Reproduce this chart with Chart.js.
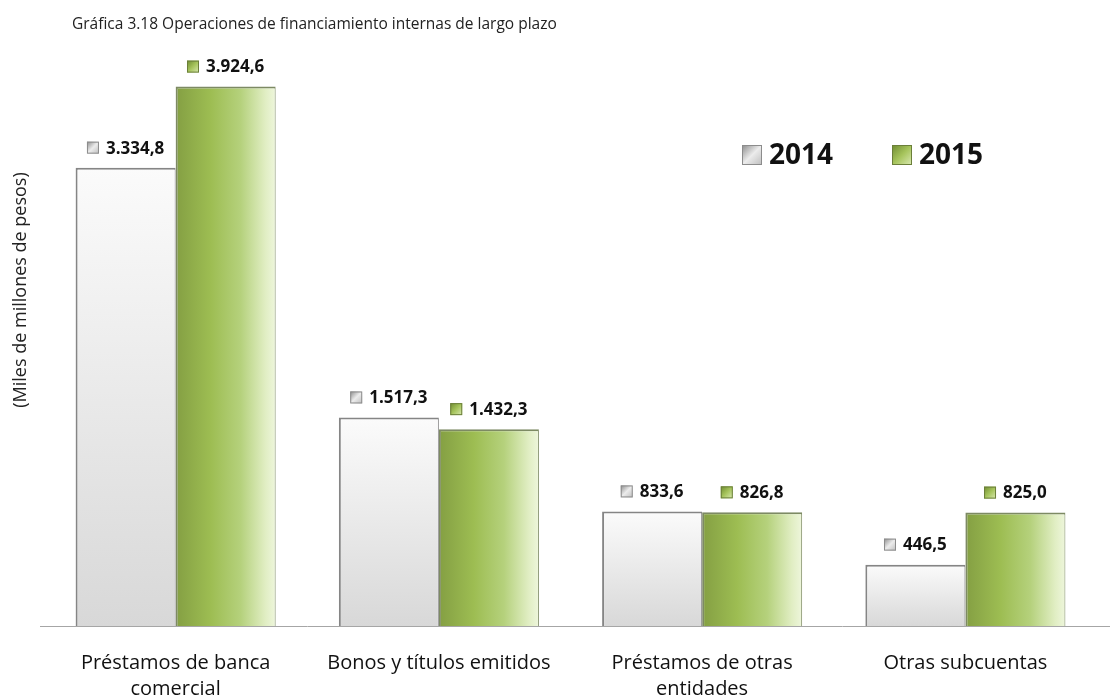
<!DOCTYPE html>
<html>
<head>
<meta charset="utf-8">
<script src="https://cdn.jsdelivr.net/npm/chart.js@4/dist/chart.umd.min.js"></script>
<style>
  html, body { margin: 0; padding: 0; background: #fff; }
  #wrap { width: 1110px; height: 700px; position: relative; }
</style>
</head>
<body>
<div id="wrap"><canvas id="chart"></canvas></div>
<script>
const categories = [['Préstamos de banca', 'comercial'], 'Bonos y títulos emitidos', ['Préstamos de otras', 'entidades'], 'Otras subcuentas'];
const seriesNames = ['2014', '2015'];
const values2014 = [3334.8, 1517.3, 833.6, 446.5];
const values2015 = [3924.6, 1432.3, 826.8, 825.0];

const FONT = '"Open Sans", "Noto Sans", sans-serif';
const CAT_PCT = 0.76;

function fmt(v) {
  const parts = v.toFixed(1).split('.');
  return parts[0].replace(/\B(?=(\d{3})+(?!\d))/g, '.') + ',' + parts[1];
}

// bar box from the scales, so the gradient follows each bar
function barBox(c) {
  const xs = c.chart.scales.x, ys = c.chart.scales.y;
  if (!xs || !ys || !c.chart.chartArea) return null;
  const center = xs.getPixelForValue(c.dataIndex);
  const w = xs.width / categories.length * CAT_PCT / 2;
  const left = center - w + c.datasetIndex * w;
  return { left, right: left + w, top: ys.getPixelForValue(c.raw), bottom: ys.getPixelForValue(0) };
}

function grayFill(c) {
  const b = barBox(c);
  if (!b) return '#e6e6e6';
  const g = c.chart.ctx.createLinearGradient(0, b.top, 0, b.bottom);
  g.addColorStop(0, '#fbfbfb');
  g.addColorStop(1, '#d8d8d8');
  return g;
}

function greenFill(c) {
  const b = barBox(c);
  if (!b) return '#9cbd50';
  const g = c.chart.ctx.createLinearGradient(b.left, 0, b.right, 0);
  g.addColorStop(0, '#849f43');
  g.addColorStop(0.35, '#9dbd52');
  g.addColorStop(0.65, '#b5d17c');
  g.addColorStop(0.9, '#e1eec4');
  g.addColorStop(1, '#eef6dc');
  return g;
}

function swatch(ctx, x, y, s, green) {
  const g = ctx.createLinearGradient(x, y, x + s, y + s);
  if (green) {
    g.addColorStop(0, '#6e8a30'); g.addColorStop(0.5, '#a6c45c'); g.addColorStop(1, '#dbeab4');
  } else {
    g.addColorStop(0, '#8a8a8a'); g.addColorStop(0.5, '#ececec'); g.addColorStop(1, '#bdbdbd');
  }
  ctx.fillStyle = g;
  ctx.fillRect(x, y, s, s);
  ctx.strokeStyle = green ? '#6b7f3a' : '#8c8c8c';
  ctx.lineWidth = 1;
  ctx.strokeRect(x + 0.5, y + 0.5, s - 1, s - 1);
}

const extras = {
  id: 'extras',
  afterDraw(chart) {
    const ctx = chart.ctx;
    const base = Math.round(chart.scales.y.getPixelForValue(0)) + 0.5;
    ctx.save();
    // baseline across the full width
    ctx.strokeStyle = '#a6a6a6';
    ctx.lineWidth = 1;
    ctx.beginPath();
    ctx.moveTo(40, base);
    ctx.lineTo(1110, base);
    ctx.stroke();

    // title
    ctx.fillStyle = '#222';
    ctx.font = '15.5px ' + FONT;
    ctx.textBaseline = 'middle';
    ctx.textAlign = 'left';
    ctx.fillText('Gráfica 3.18 Operaciones de financiamiento internas de largo plazo', 72, 25);

    // y axis title
    ctx.save();
    ctx.translate(21, 290);
    ctx.rotate(-Math.PI / 2);
    ctx.textAlign = 'center';
    ctx.font = '18px ' + FONT;
    ctx.fillStyle = '#222';
    ctx.fillText('(Miles de millones de pesos)', 0, 0);
    ctx.restore();

    // value labels
    ctx.font = 'bold 17px ' + FONT;
    chart.data.datasets.forEach((ds, di) => {
      chart.getDatasetMeta(di).data.forEach((bar, i) => {
        const txt = fmt(ds.data[i]);
        const tw = ctx.measureText(txt).width;
        const total = 12 + 7 + tw;
        const x0 = bar.x - total / 2;
        const yc = bar.y - 20;
        swatch(ctx, x0, yc - 6, 12, di === 1);
        ctx.fillStyle = '#111';
        ctx.textAlign = 'left';
        ctx.fillText(txt, x0 + 19, yc + 1);
      });
    });

    // legend
    ctx.font = 'bold 28px ' + FONT;
    const legendX = [742, 892];
    seriesNames.forEach((name, i) => {
      swatch(ctx, legendX[i], 145, 20, i === 1);
      ctx.fillStyle = '#111';
      ctx.fillText(name, legendX[i] + 27, 156);
    });
    ctx.restore();
  }
};

new Chart(document.getElementById('chart'), {
  type: 'bar',
  data: {
    labels: categories,
    datasets: [
      {
        label: seriesNames[0],
        data: values2014,
        backgroundColor: grayFill,
        borderColor: '#858585',
        borderWidth: { top: 2, left: 2, right: 1, bottom: 0 },
        borderSkipped: false
      },
      {
        label: seriesNames[1],
        data: values2015,
        backgroundColor: greenFill,
        borderColor: '#7d8a63',
        borderWidth: { top: 2, left: 2, right: 1, bottom: 0 },
        borderSkipped: false
      }
    ]
  },
  options: {
    responsive: true,
    maintainAspectRatio: false,
    animation: false,
    layout: { padding: { left: 44, right: 13, top: 35, bottom: 0 } },
    datasets: { bar: { categoryPercentage: CAT_PCT, barPercentage: 1.0 } },
    plugins: {
      legend: { display: false },
      tooltip: { enabled: false }
    },
    scales: {
      x: {
        grid: { display: false },
        border: { display: false },
        ticks: {
          color: '#111',
          font: { family: FONT, size: 20, lineHeight: 1.3 },
          padding: 16,
          maxRotation: 0
        },
        afterFit(scale) { scale.height = 74; }
      },
      y: {
        display: false,
        min: 0,
        max: 4300
      }
    }
  },
  plugins: [extras]
});
</script>
</body>
</html>
